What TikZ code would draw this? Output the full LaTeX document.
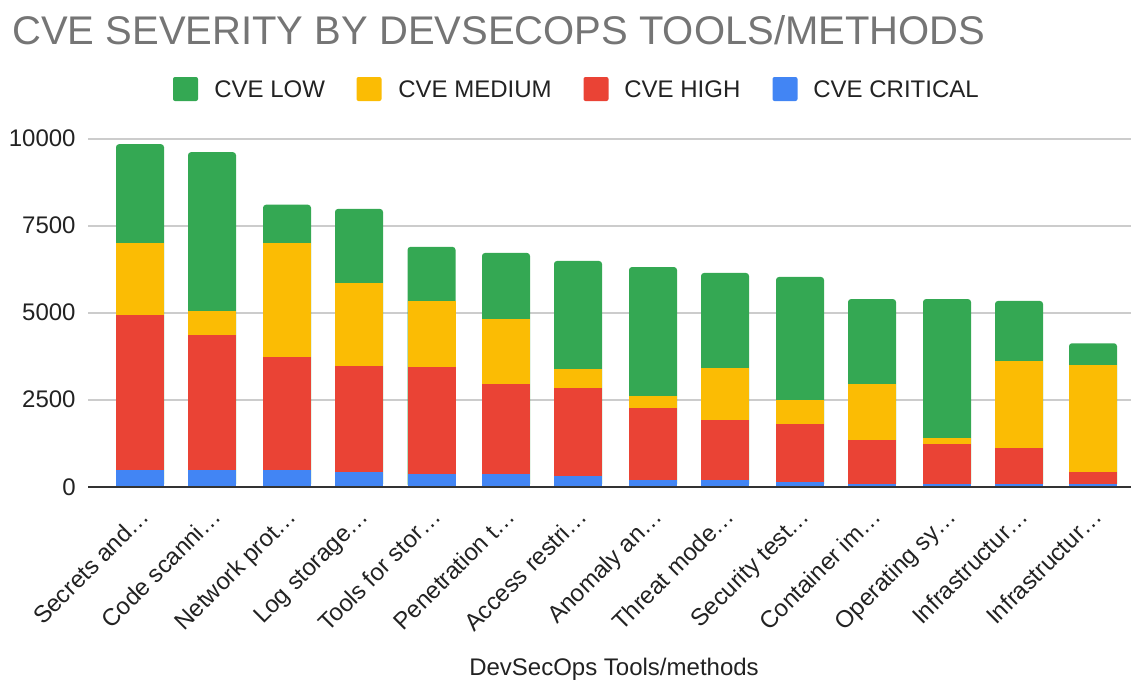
\documentclass[tikz,border=0pt]{standalone}
\usepackage{fontspec}
\setmainfont{Liberation Sans}
\definecolor{cvelow}{HTML}{34A853}
\definecolor{cvemed}{HTML}{FBBC04}
\definecolor{cvehigh}{HTML}{EA4335}
\definecolor{cvecrit}{HTML}{4285F4}
\definecolor{titlegray}{HTML}{757575}
\definecolor{gridgray}{HTML}{CCCCCC}
\definecolor{axisdark}{HTML}{333333}
\definecolor{textdark}{HTML}{222222}
\begin{document}
\begin{tikzpicture}[x=0.5pt,y=-0.5pt,
  titletext/.style={font=\fontsize{20pt}{24pt}\selectfont, text=titlegray, inner sep=0pt, anchor=base west},
  legtext/.style={font=\fontsize{12pt}{14pt}\selectfont, text=textdark, inner sep=0pt, anchor=base west},
  legkey/.style={minimum width=12.5pt, minimum height=12pt, inner sep=0pt, rounded corners=1pt},
  ylab/.style={font=\fontsize{12pt}{14pt}\selectfont, text=textdark, inner sep=0pt, anchor=base east},
  xlab/.style={font=\fontsize{12pt}{14pt}\selectfont, text=textdark, inner sep=0pt, anchor=base east, rotate=45},
  axtitle/.style={font=\fontsize{12pt}{14pt}\selectfont, text=textdark, inner sep=0pt, anchor=base},
  gridline/.style={draw=gridgray, line width=0.75pt},
  axisline/.style={draw=axisdark, line width=1pt}
]
\useasboundingbox (0,0) rectangle (1131,681);
% title
\node[titletext] (title) at (12,44) {CVE SEVERITY BY DEVSECOPS TOOLS/METHODS};
% legend
\node[legkey, fill=cvelow] (klow) at (185.5,89) {};
\node[legtext] (tlow) at (214,97) {CVE LOW};
\node[legkey, fill=cvemed] (kmed) at (369,89) {};
\node[legtext] (tmed) at (398,97) {CVE MEDIUM};
\node[legkey, fill=cvehigh] (khigh) at (596,89) {};
\node[legtext] (thigh) at (624,97) {CVE HIGH};
\node[legkey, fill=cvecrit] (kcrit) at (785,89) {};
\node[legtext] (tcrit) at (813,97) {CVE CRITICAL};
% gridlines and y labels
\foreach \v/\nm in {2500/a,5000/b,7500/c,10000/d}{
  \draw[gridline] (88,{487-\v*0.0348}) -- (1131,{487-\v*0.0348});
}
\foreach \v/\nm in {0/a,2500/b,5000/c,7500/d,10000/e}{
  \node[ylab] (y\nm) at (76,{495-\v*0.0348}) {\v};
}
% bars
\foreach \i/\cx/\a/\b/\c/\d/\lab in {
  1/140/9850/7010/4940/500/Secrets and…,
  2/212/9620/5050/4360/500/Code scanni…,
  3/287/8110/7010/3730/500/Network prot…,
  4/359/7990/5850/3490/440/Log storage…,
  5/431.5/6900/5345/3440/380/Tools for stor…,
  6/506/6725/4820/2970/380/Penetration t…,
  7/578/6495/3380/2855/320/Access restri…,
  8/653/6320/2625/2280/200/Anomaly an…,
  9/725/6150/3430/1925/200/Threat mode…,
  10/800/6035/2510/1820/145/Security test…,
  11/872/5400/2970/1360/90/Container im…,
  12/947/5400/1410/1245/90/Operating sy…,
  13/1019/5345/3610/1130/90/Infrastructur…,
  14/1093/4130/3500/430/90/Infrastructur…}{
  \fill[cvelow, rounded corners=1.5pt] ({\cx-24},{487-\a*0.0348}) rectangle ({\cx+24},487);
  \fill[cvemed] ({\cx-24},{487-\b*0.0348}) rectangle ({\cx+24},487);
  \fill[cvehigh] ({\cx-24},{487-\c*0.0348}) rectangle ({\cx+24},487);
  \fill[cvecrit] ({\cx-24},{487-\d*0.0348}) rectangle ({\cx+24},487);
  \node[xlab] (lab\i) at ({\cx+11},518) {\lab};
}
% axis
\draw[axisline] (88,487) -- (1131,487);
\node[axtitle] (xtitle) at (614,675) {DevSecOps Tools/methods};
\end{tikzpicture}
\end{document}
